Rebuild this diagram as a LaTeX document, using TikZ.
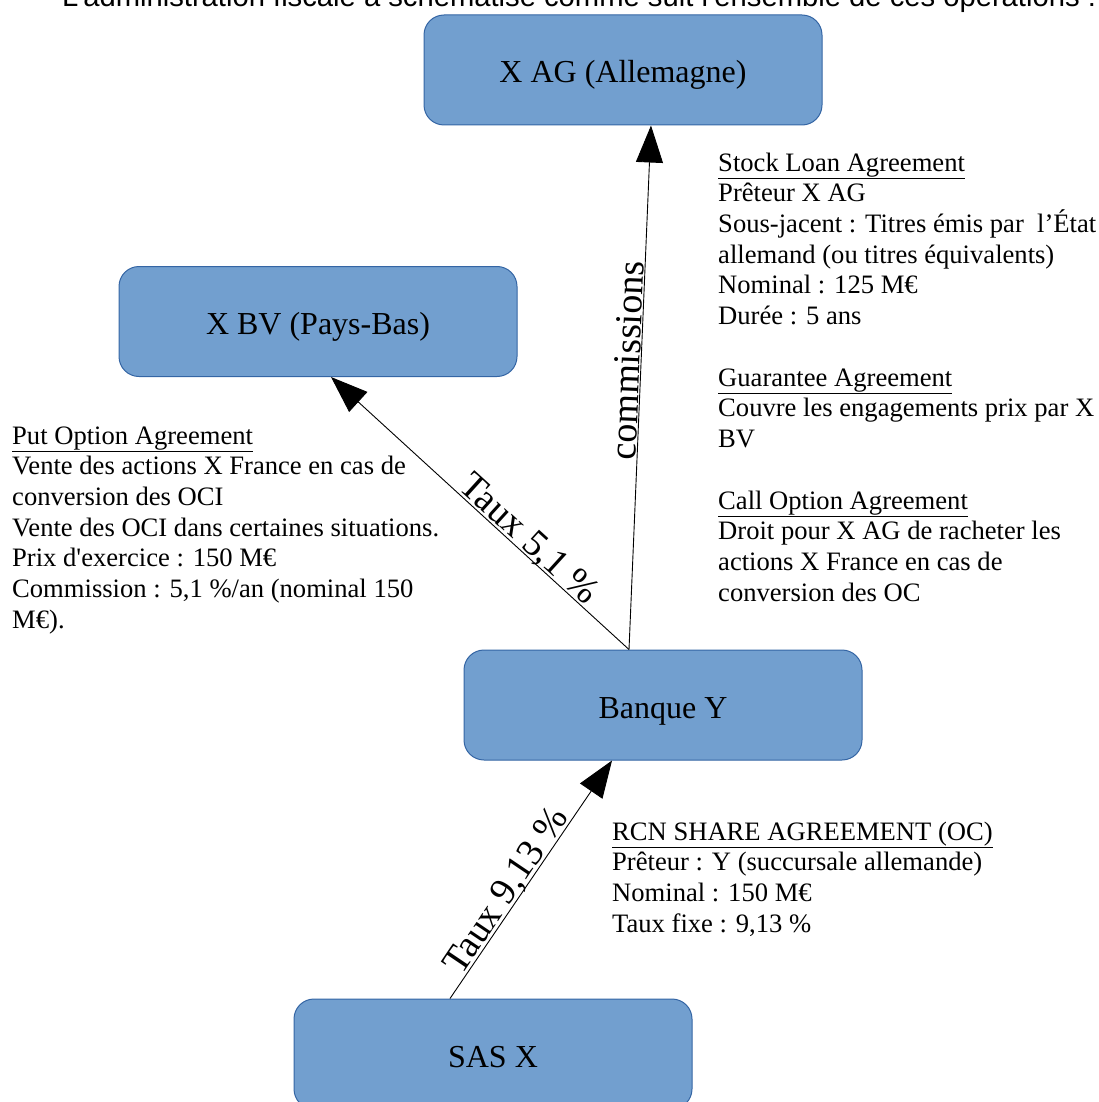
\documentclass[tikz,border=0pt]{standalone}
\usepackage{fontspec}
\setmainfont{Liberation Serif}
\newfontfamily\titlefont{Liberation Sans}
\usetikzlibrary{arrows.meta,calc}
\definecolor{boxfill}{HTML}{729FCF}
\definecolor{boxdraw}{HTML}{3465A4}
\begin{document}
\begin{tikzpicture}[x=1pt,y=-1pt,
  entity/.style={draw=boxdraw, fill=boxfill, line width=1pt, rounded corners=20pt,
    minimum width=398pt, minimum height=110pt, inner sep=0pt,
    text height=26pt, text depth=0pt,
    font=\fontsize{32}{36}\selectfont},
  flow/.style={line width=0.9pt, -{Triangle[length=37pt,width=27pt]}},
  note/.style={anchor=base west, align=left, inner sep=0pt,
    font=\fontsize{26.6}{30.7}\selectfont},
  lbl/.style={anchor=base, inner sep=0pt, font=\fontsize{38}{40}\selectfont}]
\useasboundingbox (0,0) rectangle (1099,1102);
\clip (0,0) rectangle (1099,1102);

\node[anchor=base west, inner sep=0pt, font=\titlefont\fontsize{29.2}{32}\selectfont] (title) at (62,7)
  {L’administration fiscale a schématisé comme suit l’ensemble de ces opérations :};

\node[entity] (xag) at (623,70) {X AG (Allemagne)};
\node[entity] (xbv) at (318,321.5) {X BV (Pays-Bas)};
\node[entity] (bank) at (663,705) {Banque Y};
\node[entity] (sas) at (493,1054) {SAS X};

\coordinate (b1) at ($(bank.north)+(-34,0)$);
\coordinate (a1) at ($(xag.south)+(28,0)$);
\coordinate (v1) at ($(xbv.south)+(13,0)$);
\coordinate (s1) at ($(sas.north)+(-43,0)$);
\coordinate (b2) at ($(bank.south)+(-51,0)$);

\draw[flow] (b1) -- (a1);
\draw[flow] (b1) -- (v1);
\draw[flow] (s1) -- (b2);

\node[lbl, rotate=87.6] (lcom) at (640,361) {commissions};
\node[lbl, rotate=-42.3] (l51) at (521.6,547.3) {Taux 5,1 \%};
\node[lbl, rotate=56] (l913) at (515,897) {Taux 9,13 \%};

% base anchor of a multi-line node = baseline of its last line
\node[note] (put) at (12,628.2) {\underline{Put Option Agreement}\\
Vente des actions X France en cas de\\
conversion des OCI\\
Vente des OCI dans certaines situations.\\
Prix d\textquotesingle exercice : 150 M€\\
Commission : 5,1 \%/an (nominal 150\\
M€).};

\node[note] (stock) at (718,324.5) {\underline{Stock Loan Agreement}\\
Prêteur X AG\\
Sous-jacent : Titres émis par \ l’État\\
allemand (ou titres équivalents)\\
Nominal : 125 M€\\
Durée : 5 ans};

\node[note] (guar) at (718,447.4) {\underline{Guarantee Agreement}\\
Couvre les engagements prix par X\\
BV};

\node[note] (call) at (718,601.1) {\underline{Call Option Agreement}\\
Droit pour X AG de racheter les\\
actions X France en cas de\\
conversion des OC};

\node[note] (rcn) at (612,932.1) {\underline{RCN SHARE AGREEMENT (OC)}\\
Prêteur : Y (succursale allemande)\\
Nominal : 150 M€\\
Taux fixe : 9,13 \%};
\end{tikzpicture}
\end{document}
